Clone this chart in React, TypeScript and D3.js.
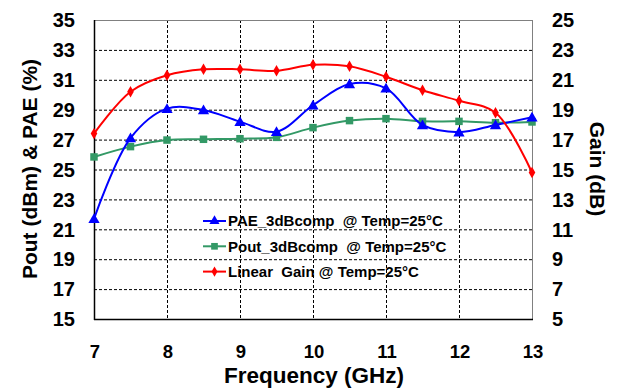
import * as d3 from "d3";
import { useEffect, useRef } from "react";

const WIDTH = 617;
const HEIGHT = 390;
const MARGIN = { top: 20, right: 85, bottom: 71, left: 94 };

const FREQ = [7, 7.5, 8, 8.5, 9, 9.5, 10, 10.5, 11, 11.5, 12, 12.5, 13];
const PAE = [21.7, 27.1, 29.07, 28.98, 28.2, 27.53, 29.3, 30.72, 30.43, 27.98, 27.5, 27.98, 28.49];
const POUT = [25.84, 26.53, 26.97, 27.02, 27.06, 27.15, 27.8, 28.27, 28.4, 28.22, 28.22, 28.13, 28.18];
const GAIN = [17.4, 20.2, 21.3, 21.7, 21.7, 21.6, 22.0, 21.9, 21.2, 20.3, 19.6, 18.8, 14.8];

const X_TICKS = [7, 8, 9, 10, 11, 12, 13];
const LEFT_TICKS = [15, 17, 19, 21, 23, 25, 27, 29, 31, 33, 35];
const RIGHT_TICKS = [5, 7, 9, 11, 13, 15, 17, 19, 21, 23, 25];

const LEGEND = [
  { label: "PAE_3dBcomp  @ Temp=25°C", color: "#0000ff", marker: "triangle" },
  { label: "Pout_3dBcomp  @ Temp=25°C", color: "#339966", marker: "square" },
  { label: "Linear  Gain @ Temp=25°C", color: "#ff0000", marker: "diamond" },
];

const FONT = "'Liberation Sans', Arial, sans-serif";

export default function App() {
  const svgRef = useRef<SVGSVGElement>(null);

  useEffect(() => {
    const svg = d3.select(svgRef.current);
    svg.selectAll("*").remove();

    const x0 = MARGIN.left;
    const x1 = WIDTH - MARGIN.right;
    const y0 = HEIGHT - MARGIN.bottom;
    const y1 = MARGIN.top;

    const x = d3.scaleLinear().domain([7, 13]).range([x0, x1]);
    const yL = d3.scaleLinear().domain([15, 35]).range([y0, y1]);
    const yR = d3.scaleLinear().domain([5, 25]).range([y0, y1]);

    svg.append("rect").attr("width", WIDTH).attr("height", HEIGHT).attr("fill", "#fff");

    // grid
    const grid = svg.append("g").attr("stroke", "#000").attr("stroke-width", 1).attr("stroke-dasharray", "3 2");
    LEFT_TICKS.slice(1, -1).forEach((t) => {
      grid.append("line").attr("x1", x0).attr("x2", x1).attr("y1", yL(t) + 0.5).attr("y2", yL(t) + 0.5);
    });
    X_TICKS.slice(1, -1).forEach((t) => {
      grid.append("line").attr("y1", y1).attr("y2", y0).attr("x1", x(t) + 0.5).attr("x2", x(t) + 0.5);
    });

    // frame
    svg.append("line").attr("x1", x0).attr("x2", x1).attr("y1", y1 + 0.5).attr("y2", y1 + 0.5).attr("stroke", "#808080");
    svg.append("line").attr("x1", x1 + 0.5).attr("x2", x1 + 0.5).attr("y1", y1).attr("y2", y0).attr("stroke", "#808080");
    svg.append("line").attr("x1", x0 + 0.5).attr("x2", x0 + 0.5).attr("y1", y1).attr("y2", y0 + 1).attr("stroke", "#000").attr("stroke-width", 1.5);
    svg.append("line").attr("x1", x0).attr("x2", x1 + 1).attr("y1", y0 + 0.5).attr("y2", y0 + 0.5).attr("stroke", "#000").attr("stroke-width", 1.5);

    const txt = svg.append("g").attr("font-family", FONT).attr("font-weight", "bold").attr("fill", "#000");

    LEFT_TICKS.forEach((t) => {
      txt.append("text").attr("x", 75).attr("y", yL(t)).attr("dy", "0.36em").attr("text-anchor", "end").attr("font-size", 20).text(t);
    });
    RIGHT_TICKS.forEach((t) => {
      txt.append("text").attr("x", 552).attr("y", yR(t)).attr("dy", "0.36em").attr("text-anchor", "start").attr("font-size", 20).text(t);
    });
    X_TICKS.forEach((t) => {
      txt.append("text").attr("x", x(t) + 1).attr("y", 358).attr("text-anchor", "middle").attr("font-size", 18.5).text(t);
    });

    txt.append("text").attr("x", 314).attr("y", 383).attr("text-anchor", "middle").attr("font-size", 22.5).text("Frequency (GHz)");
    txt.append("text").attr("transform", "translate(37,169) rotate(-90)").attr("text-anchor", "middle").attr("font-size", 21).text("Pout (dBm) & PAE (%)");
    txt.append("text").attr("transform", "translate(590,169) rotate(90)").attr("text-anchor", "middle").attr("font-size", 21).text("Gain (dB)");

    const symbols: Record<string, d3.SymbolType> = {
      triangle: d3.symbolTriangle,
      square: d3.symbolSquare,
      diamond: d3.symbolDiamond,
    };
    const sizes: Record<string, number> = { triangle: 55, square: 56, diamond: 38 };

    const curve = d3.curveCatmullRom.alpha(0.5);
    const series = [
      { values: PAE, y: yL, ...LEGEND[0] },
      { values: POUT, y: yL, ...LEGEND[1] },
      { values: GAIN, y: yR, ...LEGEND[2] },
    ];

    // draw in order: pout, pae, gain
    [series[1], series[0], series[2]].forEach((s) => {
      const pts = FREQ.map((f, i) => [x(f), s.y(s.values[i])] as [number, number]);
      svg
        .append("path")
        .attr("d", d3.line().curve(curve)(pts))
        .attr("fill", "none")
        .attr("stroke", s.color)
        .attr("stroke-width", 2);
      const sym = d3.symbol().type(symbols[s.marker]).size(sizes[s.marker]);
      pts.forEach(([px, py]) => {
        svg
          .append("path")
          .attr("d", sym())
          .attr("transform", `translate(${px},${py + (s.marker === "triangle" ? 1 : 0)})`)
          .attr("fill", s.color);
      });
    });

    // legend
    LEGEND.forEach((l, i) => {
      const ly = 221 + i * 25.3;
      const g = svg.append("g");
      g.append("line").attr("x1", 203).attr("x2", 226).attr("y1", ly).attr("y2", ly).attr("stroke", l.color).attr("stroke-width", 2);
      g.append("path")
        .attr("d", d3.symbol().type(symbols[l.marker]).size(sizes[l.marker] * 0.8)())
        .attr("transform", `translate(214.5,${ly})`)
        .attr("fill", l.color);
      g.append("text")
        .attr("x", 228)
        .attr("y", ly)
        .attr("dy", "0.36em")
        .attr("font-family", FONT)
        .attr("font-weight", "bold")
        .attr("font-size", 15)
        .attr("xml:space", "preserve")
        .style("white-space", "pre")
        .text(l.label);
    });
  }, []);

  return (
    <svg
      ref={svgRef}
      width={WIDTH}
      height={HEIGHT}
      viewBox={`0 0 ${WIDTH} ${HEIGHT}`}
      style={{ position: "absolute", left: 0, top: 0 }}
    />
  );
}
